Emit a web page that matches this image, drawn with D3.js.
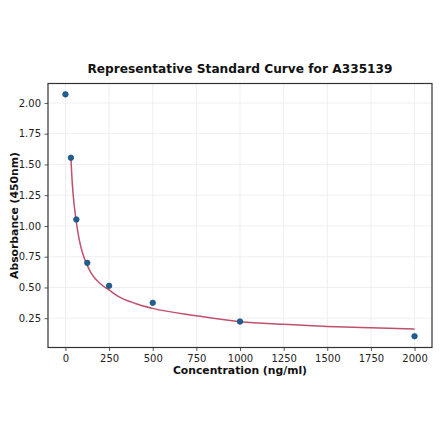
<!DOCTYPE html>
<html>
<head>
<meta charset="utf-8">
<script src="https://cdn.jsdelivr.net/npm/d3@7"></script>
<style>
  html, body { margin: 0; padding: 0; background: #fff; }
  svg { display: block; font-family: "DejaVu Sans", sans-serif; }
</style>
</head>
<body>
<svg id="chart" width="440" height="441"></svg>
<script>
// Standard points
const concentrations = [0, 31.25, 62.5, 125, 250, 500, 1000, 2000];
const absorbances = [2.07, 1.555, 1.053, 0.70, 0.513, 0.375, 0.223, 0.104];

// Fitted curve
const curveX = [31.25, 40, 50, 62.5, 80, 100, 125, 150, 200, 250, 300, 400, 500, 750, 1000, 1250, 1500, 1750, 2000];
const curveY = [1.55, 1.33, 1.17, 1.03, 0.88, 0.77, 0.68, 0.61, 0.53, 0.48, 0.43, 0.37, 0.33, 0.27, 0.222, 0.20, 0.183, 0.172, 0.163];

const xTicks = [0, 250, 500, 750, 1000, 1250, 1500, 1750, 2000];
const yTicks = [0.25, 0.50, 0.75, 1.00, 1.25, 1.50, 1.75, 2.00];

const title = "Representative Standard Curve for A335139";
const xLabel = "Concentration (ng/ml)";
const yLabel = "Absorbance (450nm)";

const pLeft = 48, pRight = 432, pTop = 83.5, pBottom = 347.5;
const svg = d3.select("#chart");

const x = d3.scaleLinear().domain([-100, 2100]).range([pLeft, pRight]);
const y = d3.scaleLinear().domain([0.012, 2.158]).range([pBottom, pTop]);

// grid
const grid = svg.append("g");
grid.selectAll("line.gx").data(xTicks).enter().append("line")
  .attr("x1", d => x(d)).attr("x2", d => x(d))
  .attr("y1", pTop).attr("y2", pBottom)
  .attr("stroke", "#ebebeb").attr("stroke-width", 0.8);
grid.selectAll("line.gy").data(yTicks).enter().append("line")
  .attr("x1", pLeft).attr("x2", pRight)
  .attr("y1", d => y(d)).attr("y2", d => y(d))
  .attr("stroke", "#ebebeb").attr("stroke-width", 0.8);

// axes
const xAxis = d3.axisBottom(x).tickValues(xTicks).tickFormat(d3.format("d")).tickSize(3.5).tickPadding(3.5);
const yAxis = d3.axisLeft(y).tickValues(yTicks).tickFormat(d3.format(".2f")).tickSize(3.5).tickPadding(3.5);

const gx = svg.append("g").attr("transform", `translate(0,${pBottom})`).call(xAxis);
const gy = svg.append("g").attr("transform", `translate(${pLeft},0)`).call(yAxis);
[gx, gy].forEach(g => {
  g.select(".domain").remove();
  g.selectAll(".tick line").attr("stroke", "#333").attr("stroke-width", 0.8);
  g.selectAll(".tick text").attr("fill", "#222").style("font-size", "10px").style("font-family", "DejaVu Sans, sans-serif");
});

// curve
const line = d3.line().x((d, i) => x(curveX[i])).y(d => y(d)).curve(d3.curveMonotoneX);
svg.append("path").datum(curveY).attr("d", line)
  .attr("fill", "none").attr("stroke", "#c0506b").attr("stroke-width", 1.5);

// points
svg.selectAll("circle.pt").data(absorbances).enter().append("circle")
  .attr("cx", (d, i) => x(concentrations[i])).attr("cy", d => y(d)).attr("r", 2.8)
  .attr("fill", "#1f5f94").attr("stroke", "#15456e").attr("stroke-width", 0.6);

// frame
svg.append("rect").attr("x", pLeft).attr("y", pTop).attr("width", pRight - pLeft).attr("height", pBottom - pTop)
  .attr("fill", "none").attr("stroke", "#333").attr("stroke-width", 1.2);

// texts
svg.append("text").attr("x", 240).attr("y", 72.5).attr("text-anchor", "middle")
  .style("font-size", "12.2px").style("font-weight", "bold").attr("fill", "#111").text(title);
svg.append("text").attr("x", 240).attr("y", 373.5).attr("text-anchor", "middle")
  .style("font-size", "10.8px").style("font-weight", "bold").attr("fill", "#111").text(xLabel);
svg.append("text").attr("transform", `translate(17.5,${(pTop + pBottom) / 2}) rotate(-90)`).attr("text-anchor", "middle")
  .style("font-size", "10.8px").style("font-weight", "bold").attr("fill", "#111").text(yLabel);
</script>
</body>
</html>
